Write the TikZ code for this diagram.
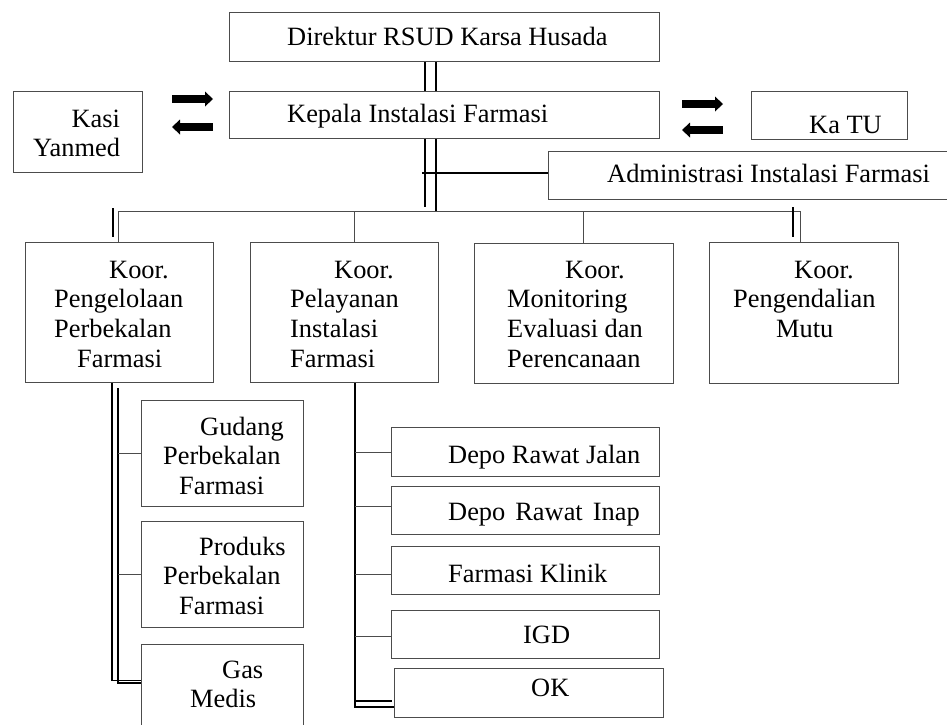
\documentclass[tikz,border=0pt]{standalone}
\usepackage{fontspec}
\setmainfont{Liberation Serif}
\usetikzlibrary{positioning,arrows.meta}

\begin{document}
\begin{tikzpicture}[x=1pt,y=-1pt,
kotak/.style={draw=black!70,line width=1pt,inner sep=0pt,anchor=north west},
teks/.style={inner sep=0pt,align=left,font=\fontsize{26.4}{29.6}\selectfont},
garis/.style={draw=black!70,line width=1pt},
tebal/.style={draw=black,line width=1.5pt},
panah/.style={line width=8pt,-{Triangle[length=8pt,width=15pt,line width=0pt]}}]
\clip (0,0) rectangle (947,724);
% kotak
\node[kotak,minimum width=430pt,minimum height=49pt] (direktur) at (229,12) {};
\node[kotak,minimum width=430pt,minimum height=47pt] (kepala) at (229,91) {};
\node[kotak,minimum width=129pt,minimum height=81pt] (kasi) at (13,91) {};
\node[kotak,minimum width=156pt,minimum height=48pt] (katu) at (751,91) {};
\node[kotak,minimum width=420pt,minimum height=48pt] (admin) at (548,151) {};
\node[kotak,minimum width=188pt,minimum height=140pt] (koorA) at (25,242) {};
\node[kotak,minimum width=188pt,minimum height=140pt] (koorB) at (250,242) {};
\node[kotak,minimum width=199pt,minimum height=140pt] (koorC) at (474,243) {};
\node[kotak,minimum width=189pt,minimum height=141pt] (koorD) at (709,242) {};
\node[kotak,minimum width=162pt,minimum height=106pt] (gudang) at (141,400) {};
\node[kotak,minimum width=162pt,minimum height=106pt] (produks) at (141,521) {};
\node[kotak,minimum width=162pt,minimum height=90pt] (gas) at (141,644) {};
\node[kotak,minimum width=268pt,minimum height=49pt] (rjalan) at (391,427) {};
\node[kotak,minimum width=268pt,minimum height=48pt] (rinap) at (391,486) {};
\node[kotak,minimum width=268pt,minimum height=48pt] (klinik) at (391,546) {};
\node[kotak,minimum width=268pt,minimum height=48pt] (igd) at (391,610) {};
\node[kotak,minimum width=269pt,minimum height=49pt] (ok) at (394,668) {};
% teks
\node[teks,below right=12.3pt and 58pt of direktur.north west] (direkturT) {\strut Direktur RSUD Karsa Husada};
\node[teks,below right=10.3pt and 58pt of kepala.north west] (kepalaT) {\strut Kepala Instalasi Farmasi};
\node[teks,align=right,below right=15.3pt and 20pt of kasi.north west] (kasiT) {\strut Kasi\\Yanmed};
\node[teks,below right=21.3pt and 58pt of katu.north west] (katuT) {\strut Ka TU};
\node[teks,below right=10.3pt and 59pt of admin.north west] (adminT) {\strut Administrasi Instalasi Farmasi};
\node[teks,below right=15.3pt and 29pt of koorA.north west] (koorAT) {\strut\hspace*{55pt}Koor.\\Pengelolaan\\Perbekalan\\\hspace*{23pt}Farmasi};
\node[teks,below right=15.3pt and 40pt of koorB.north west] (koorBT) {\strut\hspace*{44pt}Koor.\\Pelayanan\\Instalasi\\Farmasi};
\node[teks,below right=14.3pt and 33pt of koorC.north west] (koorCT) {\strut\hspace*{58pt}Koor.\\Monitoring\\Evaluasi dan\\Perencanaan};
\node[teks,below right=15.3pt and 24pt of koorD.north west] (koorDT) {\strut\hspace*{61pt}Koor.\\Pengendalian\\\hspace*{43pt}Mutu};
\node[teks,below right=14.3pt and 22pt of gudang.north west] (gudangT) {\strut\hspace*{37pt}Gudang\\Perbekalan\\\hspace*{16pt}Farmasi};
\node[teks,below right=13.3pt and 22pt of produks.north west] (produksT) {\strut\hspace*{36pt}Produks\\Perbekalan\\\hspace*{16pt}Farmasi};
\node[teks,below right=13.3pt and 49pt of gas.north west] (gasT) {\strut\hspace*{32pt}Gas\\Medis};
\node[teks,below right=15.3pt and 57pt of rjalan.north west] (rjalanT) {\strut Depo Rawat Jalan};
\node[teks,below right=13.3pt and 57pt of rinap.north west] (rinapT) {\strut Depo\hspace{10pt}Rawat\hspace{10pt}Inap};
\node[teks,below right=15.3pt and 57pt of klinik.north west] (klinikT) {\strut Farmasi Klinik};
\node[teks,below right=12.3pt and 132pt of igd.north west] (igdT) {\strut IGD};
\node[teks,below right=7.3pt and 137pt of ok.north west] (okT) {\strut OK};
% titik bantu
\coordinate (busL) at (118,211);
\coordinate (busM) at (436,211);
\coordinate (busR) at (800,211);
\coordinate (cabA) at (118,388);
\coordinate (cabB) at (355,383);
\coordinate (ujungA) at (141,683);
\coordinate (ujungB) at (394,707);
% garis atas
\draw[tebal] (direktur.south -| busM) -- (kepala.north -| busM);
\draw[tebal] ([xshift=-11pt]direktur.south -| busM) -- ([xshift=-11pt]kepala.north -| busM);
\draw[tebal] (kepala.south -| busM) -- (busM);
\draw[tebal] ([xshift=-11pt]kepala.south -| busM) -- ([xshift=-11pt,yshift=4pt]busM);
\draw[line width=2pt] ([xshift=-14pt,yshift=3pt]busM |- admin.west) -- ([yshift=3pt]admin.west);
\draw[garis] (busL) -- (busR);
\draw[garis] (busL) -- (koorA.north -| busL);
\draw[garis] ([xshift=10pt]koorB.north) -- ([xshift=10pt]koorB.north |- busL);
\draw[garis] ([xshift=9.5pt]koorC.north) -- ([xshift=9.5pt]koorC.north |- busL);
\draw[garis] (busR) -- (koorD.north -| busR);
\draw[tebal] ([xshift=-5pt,yshift=3pt]busL) -- ([xshift=-5pt,yshift=5pt]koorA.north -| busL);
\draw[tebal] ([xshift=-7pt,yshift=4pt]busR) -- ([xshift=-7pt,yshift=5pt]koorD.north -| busR);
% panah
\draw[panah,shorten <=29pt,shorten >=16pt] ([yshift=16pt]kasi.east |- kepala.west) -- ([yshift=16pt]kepala.west);
\draw[panah,shorten <=16pt,shorten >=29pt] ([yshift=-12pt]kepala.west) -- ([yshift=-12pt]kasi.east |- kepala.west);
\draw[panah,shorten <=22pt,shorten >=28pt] ([yshift=11pt]kepala.east) -- ([yshift=11pt]katu.west |- kepala.east);
\draw[panah,shorten <=28pt,shorten >=22pt] ([yshift=-15pt]katu.west |- kepala.east) -- ([yshift=-15pt]kepala.east);
% cabang koor A
\draw[tebal] (cabA) |- (ujungA);
\draw[tebal] ([xshift=-6pt]koorA.south -| cabA) |- ([yshift=2.5pt]ujungA);
\draw[garis] (cabA |- gudang.west) -- (gudang.west);
\draw[garis] (cabA |- produks.west) -- (produks.west);
% cabang koor B
\draw[line width=2pt] (cabB) |- (ujungB);
\draw[tebal] ([yshift=6pt]cabB |- ujungB) -- ([yshift=6pt,xshift=-2pt]ujungB);
\draw[garis] (cabB |- rjalan.west) -- (rjalan.west);
\draw[garis] ([yshift=4pt]cabB |- rinap.west) -- ([yshift=4pt]rinap.west);
\draw[garis] ([yshift=-4pt]cabB |- klinik.west) -- ([yshift=-4pt]klinik.west);
\draw[garis] ([yshift=-2pt]cabB |- igd.west) -- ([yshift=-2pt]igd.west);
\end{tikzpicture}
\end{document}
